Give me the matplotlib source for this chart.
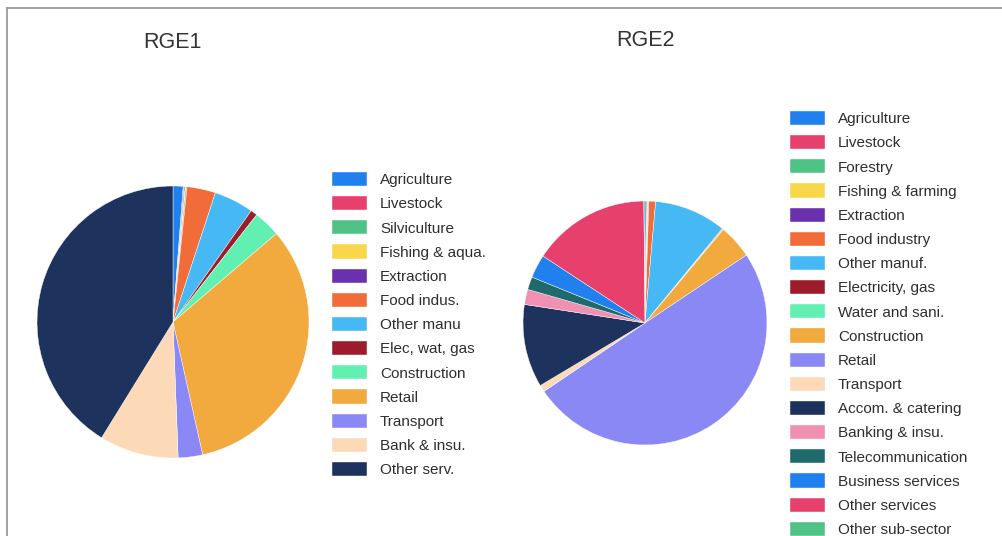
import matplotlib
matplotlib.use("Agg")
import matplotlib.pyplot as plt
from matplotlib.lines import Line2D

plt.rcParams['font.family'] = ['Liberation Sans', 'DejaVu Sans']

# shared sector palette, cycled in legend order
PALETTE = ['#2080ee', '#e8406c', '#4fc386', '#f8d84a', '#6a30ae', '#f26c3a',
           '#46b8f4', '#9c1c2c', '#62f0b2', '#f2aa3e', '#8a88f4', '#fcdab8',
           '#1e325e', '#f090b2', '#1f6a6a']

rge1_labels = ['Agriculture', 'Livestock', 'Silviculture', 'Fishing & aqua.',
               'Extraction', 'Food indus.', 'Other manu', 'Elec, wat, gas',
               'Construction', 'Retail', 'Transport', 'Bank & insu.', 'Other serv.']
rge1_values = [1.2, 0.1, 0.15, 0.1, 0.1, 3.4, 4.7, 0.8, 3.2, 32.75, 2.9, 9.4, 41.2]
rge1_colors = PALETTE[:8] + PALETTE[8:9] + PALETTE[9:13]

rge2_labels = ['Agriculture', 'Livestock', 'Forestry', 'Fishing & farming',
               'Extraction', 'Food industry', 'Other manuf.', 'Electricity, gas',
               'Water and sani.', 'Construction', 'Retail', 'Transport',
               'Accom. & catering', 'Banking & insu.', 'Telecommunication',
               'Business services', 'Other services', 'Other sub-sector']
rge2_values = [0.2, 0.1, 0.1, 0.05, 0.05, 0.9, 9.5, 0.1, 0.1, 4.5, 49.9, 0.9,
               11.0, 2.0, 1.7, 3.1, 15.6, 0.15]
rge2_colors = [PALETTE[i % len(PALETTE)] for i in range(len(rge2_labels))]

W, H = 1002, 536
fig = plt.figure(figsize=(W / 100, H / 100), dpi=100)


def pie_axes(cx, cy, r):
    return fig.add_axes([(cx - r) / W, (H - cy - r) / H, 2 * r / W, 2 * r / H])


def draw_pie(ax, values, colors, labels, title, title_xy, leg_xy):
    wedges, _ = ax.pie(values, colors=colors, startangle=90, counterclock=False,
                       wedgeprops=dict(edgecolor='white', linewidth=0.3))
    ax.set_xlim(-1, 1)
    ax.set_ylim(-1, 1)
    fig.text(title_xy[0] / W, 1 - title_xy[1] / H, title, fontsize=15.5,
             color='#333333', ha='center', va='center')
    fig.legend(wedges, labels, loc='upper left',
               bbox_to_anchor=(leg_xy[0] / W, 1 - leg_xy[1] / H),
               frameon=False, fontsize=11, labelcolor='#2e2e2e',
               handlelength=2.3, handleheight=1.05, handletextpad=0.85,
               labelspacing=0.58, borderpad=0, borderaxespad=0)


ax1 = pie_axes(173, 322, 136)
draw_pie(ax1, rge1_values, rge1_colors, rge1_labels, 'RGE1', (172, 42), (332, 172))

ax2 = pie_axes(645, 323, 122)
draw_pie(ax2, rge2_values, rge2_colors, rge2_labels, 'RGE2', (646, 41), (790, 111))

# thin frame lines along the top and left edges
fig.add_artist(Line2D([7 / W, 7 / W], [0, 1 - 8 / H], color='#9a9a9a', lw=1.3))
fig.add_artist(Line2D([7 / W, 1], [1 - 8 / H, 1 - 8 / H], color='#9a9a9a', lw=1.3))

fig.savefig('out.png', dpi=100)
